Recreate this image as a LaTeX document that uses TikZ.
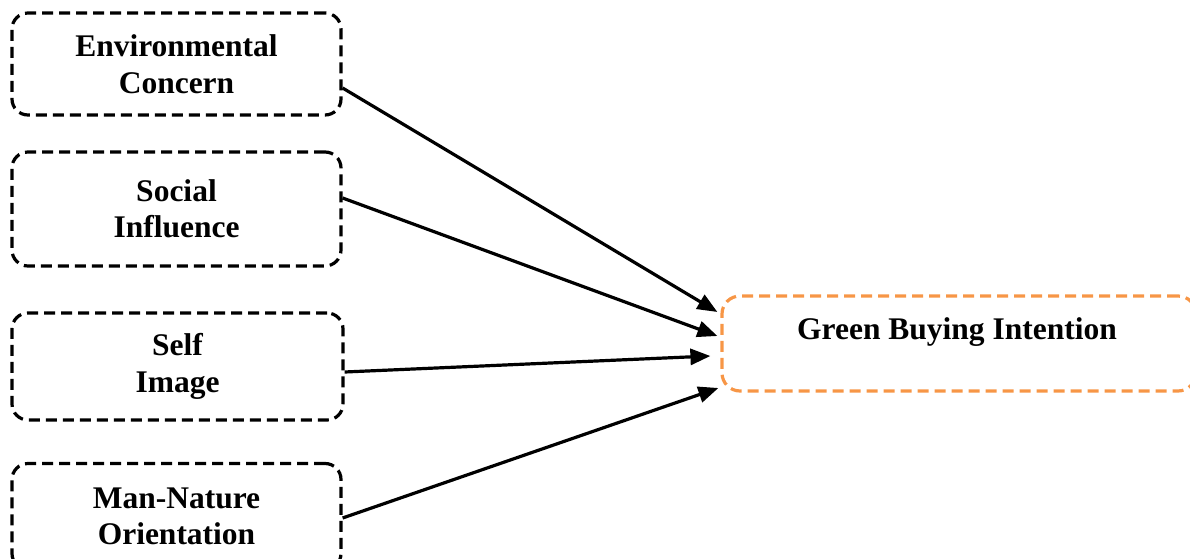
\documentclass[tikz,border=0pt]{standalone}
\usepackage{fontspec}
\setmainfont{Liberation Serif}
\usetikzlibrary{arrows.meta}
\definecolor{gborange}{HTML}{F79646}
\tikzset{
  factor/.style={draw=black, line width=3.2pt, dash pattern=on 11pt off 6pt,
    rounded corners=16pt, align=center, inner sep=0pt,
    font=\fontsize{31.5}{36.5}\selectfont\bfseries},
  outcome/.style={draw=gborange, line width=3.2pt, dash pattern=on 11pt off 6pt,
    rounded corners=18pt, inner sep=0pt},
  label/.style={font=\fontsize{31.5}{36.5}\selectfont\bfseries, inner sep=0pt},
  link/.style={line width=3.2pt, -{Triangle[length=20pt,width=16pt]}}
}
\begin{document}
\begin{tikzpicture}[x=1pt,y=1pt]
  \useasboundingbox (0,0) rectangle (1190,558);
  % predictor boxes
  \node[factor, minimum width=329pt, minimum height=102pt] (ec) at (176.5,494) {Environmental\\Concern};
  \node[factor, minimum width=329pt, minimum height=114pt] (si) at (176.5,349) {Social\\Influence};
  \node[factor, minimum width=331pt, minimum height=107pt] (im) at (177.5,191.5) {Self\\Image};
  \node[factor, minimum width=329pt, minimum height=106pt] (mn) at (176.5,41.5) {Man-Nature\\Orientation};
  % outcome box
  \node[outcome, minimum width=474pt, minimum height=95pt] (gb) at (959,214.5) {};
  \node[label] (gbt) at (957,226) {Green Buying Intention};
  % paths
  \draw[link] ([yshift=-24pt]ec.east) -- ([xshift=-3pt,yshift=31.5pt]gb.west);
  \draw[link] ([yshift=11pt]si.east) -- ([xshift=-3pt,yshift=7.5pt]gb.west);
  \draw[link] ([yshift=-5.5pt]im.east) -- ([xshift=-10pt,yshift=-12.5pt]gb.west);
  \draw[link] ([yshift=-1.5pt]mn.east) -- ([xshift=-2pt,yshift=-44.5pt]gb.west);
\end{tikzpicture}
\end{document}
